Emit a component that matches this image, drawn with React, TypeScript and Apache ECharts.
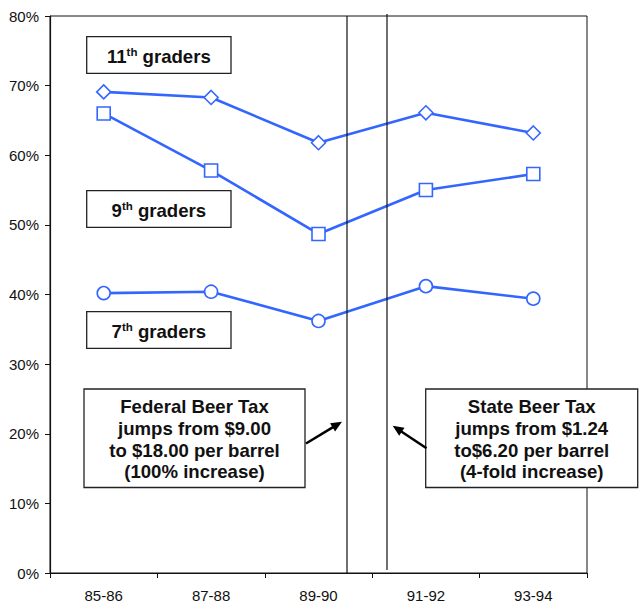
import React, { useEffect, useRef } from "react";
import * as echarts from "echarts";

const categories = ["85-86", "87-88", "89-90", "91-92", "93-94"];
const grade11 = [69.1, 68.3, 61.8, 66.1, 63.2];
const grade9 = [66.0, 57.8, 48.7, 55.0, 57.3];
const grade7 = [40.2, 40.4, 36.2, 41.2, 39.4];
const yTicks = [0, 10, 20, 30, 40, 50, 60, 70, 80];

const FONT = "'Liberation Sans', Arial, sans-serif";
const BLUE = "#3366ff";

function arrow(x1: number, y1: number, x2: number, y2: number) {
  const dx = x2 - x1;
  const dy = y2 - y1;
  const len = Math.sqrt(dx * dx + dy * dy);
  const ux = dx / len;
  const uy = dy / len;
  const nx = -uy;
  const ny = ux;
  const hl = 11;
  const hw = 4.8;
  const bx = x2 - hl * ux;
  const by = y2 - hl * uy;
  return [
    {
      type: "line",
      z: 100,
      shape: { x1, y1, x2: bx + ux * 2, y2: by + uy * 2 },
      style: { stroke: "#000", lineWidth: 2.5 },
    },
    {
      type: "polygon",
      z: 100,
      shape: {
        points: [
          [x2, y2],
          [bx + hw * nx, by + hw * ny],
          [bx - hw * nx, by - hw * ny],
        ],
      },
      style: { fill: "#000" },
    },
  ];
}

function labelBox(x: number, y: number, w: number, h: number, num: string) {
  return [
    {
      type: "rect",
      z: 100,
      shape: { x, y, width: w, height: h },
      style: { fill: "#fff", stroke: "#222", lineWidth: 1.3 },
    },
    {
      type: "text",
      z: 101,
      x: x + w / 2,
      y: y + h / 2 + 1,
      style: {
        text: `{n|${num}}{s|th}{n| graders}`,
        align: "center",
        verticalAlign: "middle",
        rich: {
          n: { fontSize: 18.6, fontWeight: "bold", fontFamily: FONT, fill: "#111", lineHeight: 20 },
          s: {
            fontSize: 11.5,
            fontWeight: "bold",
            fontFamily: FONT,
            fill: "#111",
            lineHeight: 20,
            padding: [0, 0, 9, 0],
          },
        },
      },
    },
  ];
}

function noteBox(x: number, y: number, w: number, h: number, lines: string[]) {
  return [
    {
      type: "rect",
      z: 100,
      shape: { x, y, width: w, height: h },
      style: { fill: "#fff", stroke: "#222", lineWidth: 1.3 },
    },
    {
      type: "text",
      z: 101,
      x: x + w / 2,
      y: y + h / 2 + 1,
      style: {
        text: lines.join("\n"),
        align: "center",
        verticalAlign: "middle",
        fontSize: 18.6,
        fontWeight: "bold",
        fontFamily: FONT,
        fill: "#111",
        lineHeight: 21.6,
      },
    },
  ];
}

export default function App() {
  const ref = useRef<HTMLDivElement>(null);
  useEffect(() => {
    document.body.style.margin = "0";
    if (!ref.current) return;
    const chart = echarts.init(ref.current, undefined, { renderer: "svg" });
    const mk = (name: string, data: number[], symbol: string, size: number) => ({
      name,
      type: "line",
      data,
      symbol,
      symbolSize: size,
      showAllSymbol: true,
      lineStyle: { color: BLUE, width: 2.6 },
      itemStyle: { color: "#fff", borderColor: BLUE, borderWidth: 1.6 },
      z: 3,
    });
    chart.setOption({
      animation: false,
      backgroundColor: "#fff",
      grid: {
        left: 50,
        right: 53,
        top: 16,
        bottom: 30,
        show: true,
        borderColor: "#111",
        borderWidth: 1,
        backgroundColor: "transparent",
      },
      xAxis: {
        type: "category",
        data: categories,
        boundaryGap: true,
        axisLine: { lineStyle: { color: "#111", width: 1.2 } },
        axisTick: { show: true, length: 5, lineStyle: { color: "#111" } },
        axisLabel: { fontSize: 15, fontFamily: FONT, color: "#111", margin: 15 },
        splitLine: { show: false },
      },
      yAxis: {
        type: "value",
        min: yTicks[0],
        max: yTicks[yTicks.length - 1],
        interval: 10,
        axisLine: { show: true, lineStyle: { color: "#111", width: 1.2 } },
        axisTick: { show: true, length: 5, lineStyle: { color: "#111" } },
        axisLabel: {
          fontSize: 15,
          fontFamily: FONT,
          color: "#111",
          margin: 11,
          formatter: "{value}%",
        },
        splitLine: { show: false },
      },
      series: [
        mk("11th graders", grade11, "diamond", 14),
        mk("9th graders", grade9, "rect", 13),
        mk("7th graders", grade7, "circle", 13),
      ],
      graphic: [
        {
          type: "line",
          z: 90,
          shape: { x1: 347, y1: 16, x2: 347, y2: 573 },
          style: { stroke: "#111", lineWidth: 1.2 },
        },
        {
          type: "line",
          z: 90,
          shape: { x1: 387, y1: 14, x2: 387, y2: 570 },
          style: { stroke: "#111", lineWidth: 1.2 },
        },
        ...labelBox(86.7, 36.7, 144.3, 36.6, "11"),
        ...labelBox(86.7, 190.7, 144.3, 36.6, "9"),
        ...labelBox(86.7, 311.7, 144.3, 36.6, "7"),
        ...noteBox(84, 389, 221, 98.5, [
          "Federal Beer Tax",
          "jumps from $9.00",
          "to $18.00 per barrel",
          "(100% increase)",
        ]),
        ...noteBox(425.7, 389, 212, 98.5, [
          "State Beer Tax",
          "jumps from $1.24",
          "to$6.20 per barrel",
          "(4-fold increase)",
        ]),
        ...arrow(306, 443.5, 342, 421.7),
        ...arrow(426.5, 448.3, 392.7, 425.7),
      ],
    });
    return () => chart.dispose();
  }, []);
  return <div ref={ref} style={{ width: 640, height: 603 }} />;
}
